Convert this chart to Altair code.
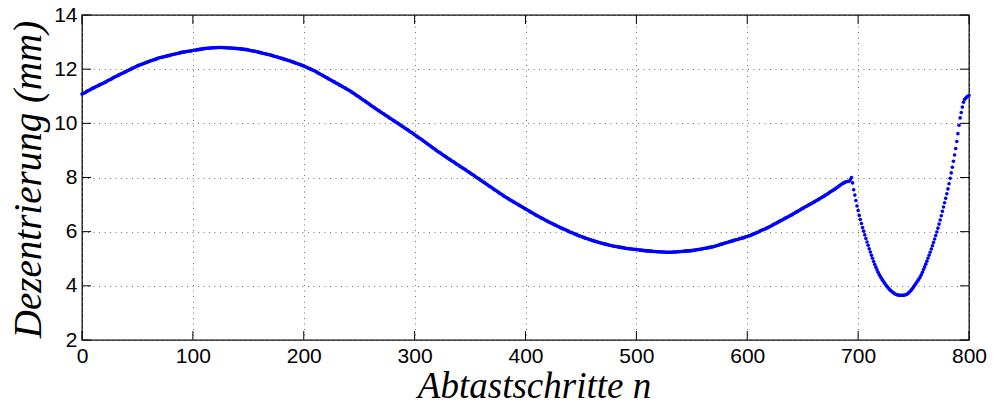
import altair as alt
import pandas as pd

# ---- data ----
steps = list(range(0, 801))  # Abtastschritte n = 0 .. 800
dezentrierung = [
    11.08, 11.10, 11.12, 11.14, 11.17, 11.19, 11.21, 11.23, 11.26, 11.28,
    11.30, 11.32, 11.34, 11.36, 11.38, 11.40, 11.42, 11.44, 11.46, 11.48,
    11.50, 11.52, 11.54, 11.57, 11.59, 11.61, 11.63, 11.65, 11.68, 11.70,
    11.72, 11.74, 11.76, 11.78, 11.80, 11.82, 11.84, 11.86, 11.88, 11.90,
    11.92, 11.94, 11.96, 11.98, 12.00, 12.02, 12.04, 12.06, 12.08, 12.10,
    12.12, 12.14, 12.15, 12.17, 12.18, 12.20, 12.22, 12.23, 12.25, 12.26,
    12.28, 12.29, 12.31, 12.32, 12.34, 12.35, 12.36, 12.38, 12.39, 12.41,
    12.42, 12.43, 12.44, 12.45, 12.46, 12.47, 12.48, 12.49, 12.50, 12.51,
    12.52, 12.53, 12.54, 12.55, 12.56, 12.57, 12.58, 12.59, 12.60, 12.61,
    12.62, 12.63, 12.63, 12.64, 12.65, 12.65, 12.66, 12.67, 12.67, 12.68,
    12.69, 12.70, 12.70, 12.71, 12.72, 12.72, 12.73, 12.74, 12.74, 12.75,
    12.76, 12.76, 12.77, 12.77, 12.77, 12.78, 12.78, 12.78, 12.79, 12.79,
    12.79, 12.79, 12.80, 12.80, 12.80, 12.80, 12.80, 12.80, 12.79, 12.79,
    12.79, 12.79, 12.78, 12.78, 12.78, 12.78, 12.77, 12.77, 12.77, 12.76,
    12.76, 12.76, 12.75, 12.75, 12.74, 12.74, 12.73, 12.73, 12.72, 12.72,
    12.71, 12.70, 12.69, 12.68, 12.67, 12.67, 12.66, 12.65, 12.64, 12.63,
    12.62, 12.61, 12.60, 12.59, 12.58, 12.57, 12.56, 12.55, 12.54, 12.53,
    12.52, 12.51, 12.50, 12.48, 12.47, 12.46, 12.45, 12.44, 12.42, 12.41,
    12.40, 12.39, 12.37, 12.36, 12.35, 12.34, 12.32, 12.31, 12.30, 12.28,
    12.27, 12.25, 12.24, 12.22, 12.21, 12.19, 12.18, 12.16, 12.15, 12.13,
    12.12, 12.10, 12.08, 12.06, 12.04, 12.02, 12.01, 11.99, 11.97, 11.95,
    11.93, 11.91, 11.88, 11.86, 11.84, 11.81, 11.79, 11.77, 11.75, 11.72,
    11.70, 11.68, 11.65, 11.63, 11.61, 11.58, 11.56, 11.54, 11.52, 11.49,
    11.47, 11.45, 11.42, 11.40, 11.38, 11.35, 11.33, 11.31, 11.29, 11.26,
    11.24, 11.21, 11.19, 11.16, 11.13, 11.11, 11.08, 11.05, 11.02, 11.00,
    10.97, 10.94, 10.91, 10.88, 10.85, 10.83, 10.80, 10.77, 10.74, 10.71,
    10.68, 10.65, 10.62, 10.60, 10.57, 10.54, 10.51, 10.48, 10.46, 10.43,
    10.40, 10.37, 10.35, 10.32, 10.29, 10.27, 10.24, 10.21, 10.18, 10.16,
    10.13, 10.10, 10.08, 10.05, 10.02, 10.00, 9.97, 9.94, 9.91, 9.89,
    9.86, 9.83, 9.80, 9.78, 9.75, 9.72, 9.69, 9.66, 9.64, 9.61,
    9.58, 9.55, 9.52, 9.49, 9.46, 9.44, 9.41, 9.38, 9.35, 9.32,
    9.29, 9.26, 9.23, 9.20, 9.17, 9.14, 9.11, 9.08, 9.05, 9.02,
    8.99, 8.96, 8.93, 8.91, 8.88, 8.85, 8.82, 8.79, 8.77, 8.74,
    8.71, 8.68, 8.66, 8.63, 8.60, 8.58, 8.55, 8.52, 8.49, 8.47,
    8.44, 8.41, 8.39, 8.36, 8.33, 8.31, 8.28, 8.25, 8.22, 8.20,
    8.17, 8.14, 8.11, 8.09, 8.06, 8.03, 8.00, 7.97, 7.95, 7.92,
    7.89, 7.86, 7.83, 7.81, 7.78, 7.75, 7.72, 7.69, 7.67, 7.64,
    7.61, 7.58, 7.55, 7.53, 7.50, 7.47, 7.44, 7.41, 7.39, 7.36,
    7.33, 7.30, 7.28, 7.25, 7.23, 7.20, 7.18, 7.15, 7.13, 7.10,
    7.08, 7.06, 7.03, 7.01, 6.98, 6.96, 6.94, 6.91, 6.89, 6.86,
    6.84, 6.82, 6.79, 6.77, 6.74, 6.72, 6.70, 6.67, 6.65, 6.62,
    6.60, 6.58, 6.56, 6.53, 6.51, 6.49, 6.47, 6.45, 6.42, 6.40,
    6.38, 6.36, 6.34, 6.32, 6.30, 6.28, 6.26, 6.24, 6.22, 6.20,
    6.18, 6.16, 6.14, 6.12, 6.10, 6.09, 6.07, 6.05, 6.03, 6.01,
    5.99, 5.97, 5.96, 5.94, 5.92, 5.91, 5.89, 5.87, 5.85, 5.84,
    5.82, 5.81, 5.79, 5.78, 5.76, 5.75, 5.74, 5.72, 5.71, 5.69,
    5.68, 5.67, 5.65, 5.64, 5.63, 5.62, 5.61, 5.59, 5.58, 5.57,
    5.56, 5.55, 5.54, 5.53, 5.52, 5.51, 5.50, 5.49, 5.48, 5.47,
    5.46, 5.45, 5.45, 5.44, 5.43, 5.43, 5.42, 5.41, 5.41, 5.40,
    5.39, 5.38, 5.38, 5.37, 5.37, 5.36, 5.36, 5.35, 5.35, 5.34,
    5.34, 5.33, 5.33, 5.32, 5.32, 5.31, 5.31, 5.30, 5.30, 5.29,
    5.29, 5.29, 5.28, 5.28, 5.28, 5.27, 5.27, 5.27, 5.26, 5.26,
    5.26, 5.26, 5.25, 5.25, 5.25, 5.25, 5.24, 5.24, 5.24, 5.24,
    5.24, 5.24, 5.24, 5.25, 5.25, 5.25, 5.25, 5.26, 5.26, 5.26,
    5.27, 5.27, 5.27, 5.28, 5.28, 5.28, 5.29, 5.29, 5.29, 5.30,
    5.30, 5.31, 5.31, 5.32, 5.33, 5.33, 5.34, 5.35, 5.35, 5.36,
    5.37, 5.38, 5.39, 5.39, 5.40, 5.41, 5.42, 5.43, 5.43, 5.44,
    5.45, 5.46, 5.48, 5.49, 5.50, 5.52, 5.53, 5.54, 5.55, 5.57,
    5.58, 5.59, 5.60, 5.62, 5.63, 5.64, 5.65, 5.66, 5.68, 5.69,
    5.70, 5.71, 5.72, 5.74, 5.75, 5.76, 5.77, 5.78, 5.80, 5.81,
    5.82, 5.84, 5.85, 5.87, 5.89, 5.90, 5.92, 5.94, 5.95, 5.97,
    5.99, 6.01, 6.03, 6.05, 6.07, 6.08, 6.10, 6.12, 6.14, 6.16,
    6.18, 6.20, 6.22, 6.25, 6.27, 6.29, 6.31, 6.33, 6.36, 6.38,
    6.40, 6.42, 6.44, 6.47, 6.49, 6.51, 6.53, 6.55, 6.58, 6.60,
    6.62, 6.64, 6.67, 6.69, 6.72, 6.74, 6.76, 6.79, 6.81, 6.84,
    6.86, 6.88, 6.91, 6.93, 6.95, 6.98, 7.00, 7.02, 7.04, 7.07,
    7.09, 7.11, 7.14, 7.16, 7.19, 7.21, 7.23, 7.26, 7.28, 7.31,
    7.33, 7.36, 7.38, 7.41, 7.44, 7.47, 7.49, 7.52, 7.55, 7.57,
    7.60, 7.63, 7.66, 7.69, 7.72, 7.75, 7.78, 7.80, 7.82, 7.84,
    7.85, 7.85, 7.86, 7.92,
    8.00, 7.80, 7.55, 7.35, 7.15, 6.95,
    6.78, 6.60, 6.45, 6.30, 6.15, 6.02, 5.88, 5.75, 5.62, 5.50,
    5.37, 5.25, 5.13, 5.02, 4.90, 4.79, 4.69, 4.59, 4.50, 4.42,
    4.35, 4.28, 4.21, 4.15, 4.09, 4.03, 3.98, 3.93, 3.88, 3.84,
    3.80, 3.77, 3.74, 3.71, 3.69, 3.67, 3.66, 3.65, 3.65, 3.65,
    3.65, 3.65, 3.66, 3.67, 3.69, 3.72, 3.76, 3.80, 3.85, 3.90,
    3.96, 4.02, 4.08, 4.14, 4.20, 4.26, 4.33, 4.41, 4.50, 4.60,
    4.70, 4.80, 4.91, 5.02, 5.13, 5.24, 5.36, 5.48, 5.60, 5.73,
    5.86, 5.99, 6.13, 6.28, 6.43, 6.59, 6.75, 6.91, 7.07, 7.23,
    7.40, 7.58, 7.77, 7.97, 8.17, 8.38, 8.60, 8.83, 9.07, 9.33,
    9.62, 9.93, 10.20, 10.40, 10.60, 10.78, 10.88, 10.93, 10.97, 11.00,
    11.03,
]
x_ticks = [0, 100, 200, 300, 400, 500, 600, 700, 800]
y_ticks = [2, 4, 6, 8, 10, 12, 14]

W, H = 887, 325
TICK = 9

df = pd.DataFrame({"n": steps, "v": dezentrierung})
xt = pd.DataFrame({"n": x_ticks})
yt = pd.DataFrame({"v": y_ticks})

xscale = alt.Scale(domain=[0, 800], nice=False, zero=False)
yscale = alt.Scale(domain=[2, 14], nice=False, zero=False)

label_font = "Liberation Sans"
title_font = "Liberation Serif"
grid_style = dict(grid=True, gridColor="#707070", gridDash=[1, 4.5], gridWidth=1)

points = alt.Chart(df).mark_circle(size=13, color="#0000ff", opacity=1).encode(
    x=alt.X(
        "n:Q",
        scale=xscale,
        axis=alt.Axis(
            values=x_ticks, format="d", ticks=False, tickSize=0, domain=False,
            labelFont=label_font, labelFontSize=21, labelColor="black",
            labelPadding=5, labelFlush=False, labelBound=False, labelOverlap=False,
            title="Abtastschritte n", titleFont=title_font, titleFontStyle="italic",
            titleFontWeight="normal", titleFontSize=37, titleColor="black",
            titleX=452, titleY=57, titleAlign="center", titleBaseline="alphabetic",
            **grid_style,
        ),
    ),
    y=alt.Y(
        "v:Q",
        scale=yscale,
        axis=alt.Axis(
            values=y_ticks, format="d", ticks=False, tickSize=0, domain=False,
            labelFont=label_font, labelFontSize=21, labelColor="black",
            labelPadding=5, labelFlush=False, labelBound=False, labelOverlap=False,
            title="Dezentrierung (mm)", titleFont=title_font, titleFontStyle="italic",
            titleFontWeight="normal", titleFontSize=39, titleColor="black",
            titleAngle=270, titleX=-42, titleY=164, titleAlign="center",
            titleBaseline="alphabetic",
            **grid_style,
        ),
    ),
)

rule_style = dict(color="black", strokeWidth=1)
x_bottom = alt.Chart(xt).mark_rule(**rule_style).encode(
    x=alt.X("n:Q", scale=xscale), y=alt.value(H), y2=alt.value(H - TICK))
x_top = alt.Chart(xt).mark_rule(**rule_style).encode(
    x=alt.X("n:Q", scale=xscale), y=alt.value(0), y2=alt.value(TICK))
y_left = alt.Chart(yt).mark_rule(**rule_style).encode(
    y=alt.Y("v:Q", scale=yscale), x=alt.value(0), x2=alt.value(TICK))
y_right = alt.Chart(yt).mark_rule(**rule_style).encode(
    y=alt.Y("v:Q", scale=yscale), x=alt.value(W - TICK), x2=alt.value(W))

chart = (
    alt.layer(points, x_bottom, x_top, y_left, y_right)
    .properties(
        width=W, height=H,
        autosize=alt.AutoSizeParams(type="none"),
        padding={"left": 82, "top": 15, "right": 994 - 82 - W, "bottom": 407 - 15 - H},
        background="white",
    )
    .configure_view(stroke="black", strokeWidth=1.3)
)

chart.save("out.html", embed_options={"renderer": "svg", "actions": False})
